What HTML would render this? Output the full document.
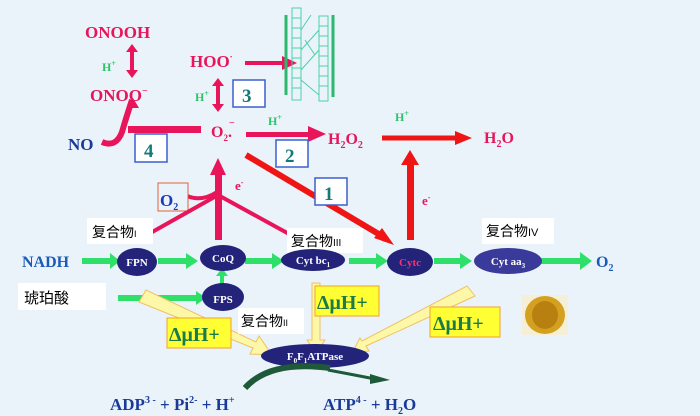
<!DOCTYPE html>
<html><head><meta charset="utf-8"><style>
html,body{margin:0;padding:0;background:#eaf3fa;}
svg{display:block;}
text{font-family:"Liberation Serif","Noto Serif CJK SC",serif;font-weight:bold;}
.cn{font-family:"Liberation Sans","Noto Sans CJK SC",sans-serif;font-weight:normal;}
</style></head><body>
<svg width="700" height="416" viewBox="0 0 700 416" xmlns="http://www.w3.org/2000/svg">
<rect width="700" height="416" fill="#eaf3fa"/>
<text x="85" y="38" font-size="17" fill="#e8155a">ONOOH</text>
<text x="102" y="71" font-size="12" fill="#2dc46a">H<tspan font-size="8" dy="-5">+</tspan></text>
<path d="M132,44 l-6,8 h4 v18 h-4 l6,8 l6,-8 h-4 v-18 h4z" fill="#e8155a"/>
<text x="90" y="101" font-size="17" fill="#e8155a">ONOO<tspan font-size="10" dy="-7">−</tspan></text>
<text x="68" y="150" font-size="17" fill="#1a3a9a">NO</text>
<path d="M102,142 q14,6 20,-10 q4,-14 10,-32" stroke="#e8155a" stroke-width="6" fill="none"/>
<path d="M133,98 l-6,10 h12z" fill="#e8155a"/>
<rect x="128" y="126" width="73" height="7" fill="#e8155a"/>
<rect x="135" y="134" width="32" height="28" fill="#fff" stroke="#3a5fcd" stroke-width="1.5"/>
<text x="144" y="157" font-size="19" fill="#127a7a">4</text>
<text x="190" y="67" font-size="17" fill="#e8155a">HOO<tspan font-size="9" dy="-7">·</tspan></text>
<rect x="245" y="61" width="40" height="4" fill="#e8155a"/>
<path d="M282,56 L297,63 L282,70z" fill="#e8155a"/>
<g stroke="#4fd0a8" stroke-width="1" fill="none">
<line x1="286" y1="15" x2="286" y2="95" stroke="#2db870" stroke-width="3"/>
<line x1="333" y1="15" x2="333" y2="97" stroke="#2db870" stroke-width="3"/>
<rect x="292" y="8" width="9" height="92"/><rect x="319" y="16" width="9" height="85"/>
<path d="M292,18 h9 M292,28 h9 M292,38 h9 M292,48 h9 M292,58 h9 M292,68 h9 M292,78 h9 M292,88 h9 M319,26 h9 M319,36 h9 M319,46 h9 M319,56 h9 M319,66 h9 M319,76 h9 M319,86 h9 M301,30 l10,-15 M301,50 l18,-20 M301,70 l18,-20 M301,80 l18,15 M305,40 l10,15"/>
</g>
<path d="M218,78 l-6,8 h4 v18 h-4 l6,8 l6,-8 h-4 v-18 h4z" fill="#e8155a"/>
<text x="195" y="101" font-size="12" fill="#2dc46a">H<tspan font-size="8" dy="-5">+</tspan></text>
<rect x="233" y="80" width="32" height="27" fill="#fff" stroke="#3a5fcd" stroke-width="1.5"/>
<text x="242" y="102" font-size="19" fill="#127a7a">3</text>
<text x="211" y="137" font-size="16" fill="#e8155a">O<tspan font-size="9" dy="4">2</tspan><tspan dy="-4">.</tspan></text>
<text x="229" y="126" font-size="10" fill="#e8155a">−</text>
<rect x="246" y="132" width="66" height="5" fill="#e8155a"/>
<path d="M308,126 L326,134 L308,142z" fill="#e8155a"/>
<text x="268" y="125" font-size="12" fill="#2dc46a">H<tspan font-size="8" dy="-5">+</tspan></text>
<rect x="276" y="140" width="32" height="27" fill="#fff" stroke="#3a5fcd" stroke-width="1.5"/>
<text x="285" y="162" font-size="19" fill="#127a7a">2</text>
<text x="328" y="144" font-size="16" fill="#e8155a">H<tspan font-size="10" dy="4">2</tspan><tspan dy="-4">O</tspan><tspan font-size="10" dy="4">2</tspan></text>
<path d="M382,138 H458" stroke="#f01515" stroke-width="5"/>
<path d="M455,131 L472,138 L455,145z" fill="#f01515"/>
<text x="395" y="121" font-size="12" fill="#2dc46a">H<tspan font-size="8" dy="-5">+</tspan></text>
<text x="484" y="143" font-size="16" fill="#e8155a">H<tspan font-size="10" dy="4">2</tspan><tspan dy="-4">O</tspan></text>
<rect x="407" y="162" width="7" height="78" fill="#f01515"/>
<path d="M401,165 L410,150 L419,165z" fill="#f01515"/>
<text x="422" y="205" font-size="13" fill="#e8155a">e<tspan font-size="8" dy="-5">-</tspan></text>
<line x1="246" y1="155" x2="382" y2="236" stroke="#f01515" stroke-width="6"/>
<path d="M374,238 L394,245 L382,228z" fill="#f01515"/>
<rect x="315" y="178" width="32" height="27" fill="#fff" stroke="#3a5fcd" stroke-width="1.5"/>
<text x="324" y="200" font-size="19" fill="#127a7a">1</text>
<rect x="215" y="170" width="7" height="70" fill="#e8155a"/>
<path d="M210,175 L218,158 L226,175z" fill="#e8155a"/>
<text x="235" y="190" font-size="13" fill="#e8155a">e<tspan font-size="8" dy="-5">-</tspan></text>
<path d="M187,196 q15,6 30,-4" stroke="#e8155a" stroke-width="4" fill="none"/>
<rect x="158" y="183" width="30" height="28" fill="#eaf3fa" stroke="#e0603a" stroke-width="1"/>
<text x="160" y="206" font-size="17" fill="#1a3aba">O<tspan font-size="10" dy="4">2</tspan></text>
<line x1="218" y1="195" x2="138" y2="240" stroke="#e8155a" stroke-width="4"/>
<line x1="218" y1="195" x2="300" y2="240" stroke="#e8155a" stroke-width="4"/>
<rect x="87" y="218" width="66" height="26" fill="#fff"/>
<text x="92" y="237" class="cn" font-size="14" fill="#000">复合物<tspan font-size="9">I</tspan></text>
<rect x="287" y="228" width="76" height="25" fill="#fff"/>
<text x="291" y="246" class="cn" font-size="14" fill="#000">复合物<tspan font-size="10">III</tspan></text>
<rect x="482" y="218" width="72" height="26" fill="#fff"/>
<text x="486" y="236" class="cn" font-size="14" fill="#000">复合物<tspan font-size="11">IV</tspan></text>
<g fill="#2ee06a">
<rect x="82" y="258" width="30" height="6"/><path d="M110,253 L120,261 L110,269z"/>
<rect x="158" y="258" width="30" height="6"/><path d="M186,253 L198,261 L186,269z"/>
<rect x="245" y="258" width="30" height="6"/><path d="M272,253 L284,261 L272,269z"/>
<rect x="349" y="258" width="30" height="6"/><path d="M376,253 L388,261 L376,269z"/>
<rect x="434" y="258" width="30" height="6"/><path d="M460,253 L472,261 L460,269z"/>
<rect x="540" y="258" width="44" height="6"/><path d="M580,252 L592,261 L580,270z"/>
<rect x="118" y="295" width="80" height="6"/><path d="M196,291 L206,298 L196,305z"/>
<rect x="220" y="274" width="4" height="14"/><path d="M216,276 L222,268 L228,276z"/>
</g>
<text x="22" y="267" font-size="16" fill="#1a5ab8" font-weight="normal">NADH</text>
<text x="596" y="267" font-size="16" fill="#1a5ab8" font-weight="normal">O<tspan font-size="10" dy="4">2</tspan></text>
<g fill="#23237a">
<ellipse cx="137" cy="262" rx="20" ry="14"/>
<ellipse cx="223" cy="258" rx="23" ry="13"/>
<ellipse cx="313" cy="260" rx="32" ry="11"/>
<ellipse cx="410" cy="262" rx="23" ry="14"/>
<ellipse cx="508" cy="261" rx="34" ry="13" fill="#3a3a9a"/>
<ellipse cx="223" cy="297" rx="21" ry="14"/>
</g>
<g font-size="11" fill="#fff" font-weight="normal" text-anchor="middle">
<text x="137" y="266">FPN</text><text x="223" y="262">CoQ</text>
<text x="313" y="264">Cyt bc<tspan font-size="7" dy="3">1</tspan></text>
<text x="410" y="266" fill="#ff3070">Cytc</text>
<text x="508" y="265">Cyt aa<tspan font-size="7" dy="3">3</tspan></text>
<text x="223" y="303">FPS</text>
</g>
<rect x="18" y="283" width="88" height="27" fill="#fff"/>
<text x="24" y="303" class="cn" font-size="15" fill="#000">琥珀酸</text>
<g fill="#fdf8a8" stroke="#f0c060" stroke-width="1">
<path d="M139,302 L146,290 L256,342 L259,336 L272,355 L250,354 L253,348z"/>
<path d="M312,283 H320 V340 H325 L316,353 L307,340 H312z"/>
<path d="M467,286 L475,296 L366,346 L369,351 L352,353 L360,338 L362,341z"/>
</g>
<rect x="238" y="308" width="66" height="26" fill="#fff"/>
<text x="241" y="326" class="cn" font-size="14" fill="#000">复合物<tspan font-size="9">II</tspan></text>
<g fill="#ffff33" stroke="#f0a030" stroke-width="1">
<rect x="167" y="318" width="64" height="30"/>
<rect x="315" y="286" width="64" height="30"/>
<rect x="430" y="307" width="70" height="30"/>
</g>
<g font-size="20" fill="#1a7a4a" font-family="Liberation Sans,sans-serif" font-weight="normal">
<text x="169" y="341">ΔμH+</text><text x="317" y="309">ΔμH+</text><text x="433" y="330">ΔμH+</text>
</g>
<ellipse cx="315" cy="356" rx="54" ry="12" fill="#23237a"/>
<text x="315" y="360" font-size="11" fill="#fff" font-weight="normal" text-anchor="middle">F<tspan font-size="7" dy="3">0</tspan><tspan dy="-3">F</tspan><tspan font-size="7" dy="3">1</tspan><tspan dy="-3">ATPase</tspan></text>
<rect x="522" y="295" width="46" height="40" fill="#f6efd8"/>
<ellipse cx="545" cy="315" rx="20" ry="19" fill="#d4a020"/>
<ellipse cx="545" cy="315" rx="13" ry="14" fill="#b88010"/>
<path d="M245,388 Q270,360 330,368" stroke="#1e5a3a" stroke-width="6" fill="none"/>
<path d="M328,370 Q360,376 380,380" stroke="#1e5a3a" stroke-width="3" fill="none"/>
<path d="M370,374 L390,380 L370,384z" fill="#1e5a3a"/>
<text x="110" y="410" font-size="17" fill="#1a3a9a">ADP<tspan font-size="10" dy="-7">3 -</tspan><tspan dy="7"> + Pi</tspan><tspan font-size="10" dy="-7">2-</tspan><tspan dy="7"> + H</tspan><tspan font-size="10" dy="-7">+</tspan></text>
<text x="323" y="410" font-size="17" fill="#1a3a9a">ATP<tspan font-size="10" dy="-7">4 -</tspan><tspan dy="7"> + H</tspan><tspan font-size="10" dy="4">2</tspan><tspan dy="-4">O</tspan></text>
</svg>
</body></html>
